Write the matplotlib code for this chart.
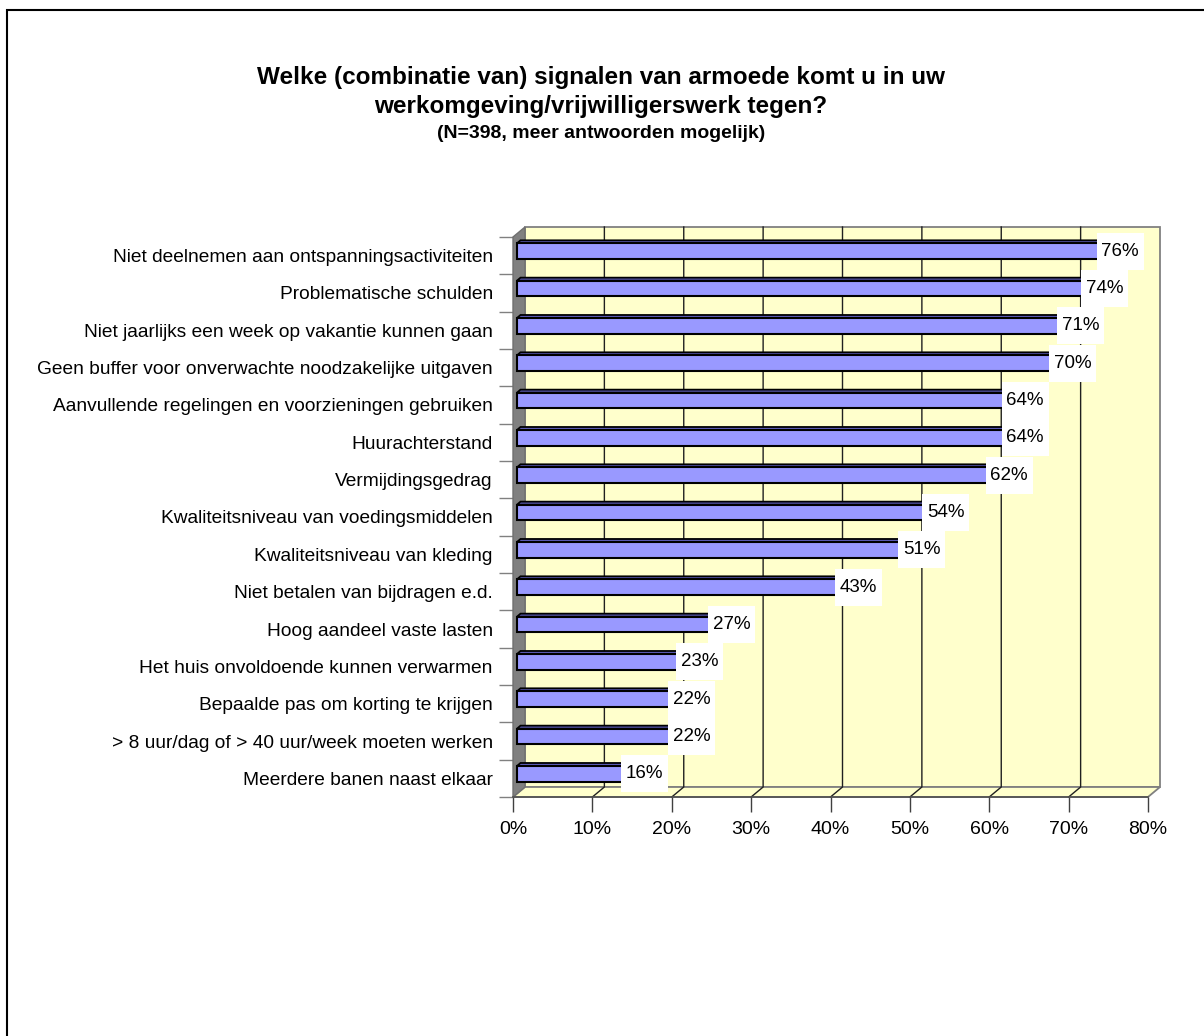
import matplotlib
matplotlib.use("Agg")
import matplotlib.pyplot as plt
from matplotlib.patches import Polygon, Rectangle
from matplotlib.transforms import IdentityTransform
import numpy as np

categories = [
    "Niet deelnemen aan ontspanningsactiviteiten",
    "Problematische schulden",
    "Niet jaarlijks een week op vakantie kunnen gaan",
    "Geen buffer voor onverwachte noodzakelijke uitgaven",
    "Aanvullende regelingen en voorzieningen gebruiken",
    "Huurachterstand",
    "Vermijdingsgedrag",
    "Kwaliteitsniveau van voedingsmiddelen",
    "Kwaliteitsniveau van kleding",
    "Niet betalen van bijdragen e.d.",
    "Hoog aandeel vaste lasten",
    "Het huis onvoldoende kunnen verwarmen",
    "Bepaalde pas om korting te krijgen",
    "> 8 uur/dag of > 40 uur/week moeten werken",
    "Meerdere banen naast elkaar",
]
values = [76, 74, 71, 70, 64, 64, 62, 54, 51, 43, 27, 23, 22, 22, 16]
xticks = [0, 10, 20, 30, 40, 50, 60, 70, 80]
xticklabels = ["0%", "10%", "20%", "30%", "40%", "50%", "60%", "70%", "80%"]

title_line1 = "Welke (combinatie van) signalen van armoede komt u in uw"
title_line2 = "werkomgeving/vrijwilligerswerk tegen?"
title_sub = "(N=398, meer antwoorden mogelijk)"

W, H = 1204, 1036
FONT = "Liberation Sans"
plt.rcParams["font.family"] = [FONT, "DejaVu Sans"]

fig = plt.figure(figsize=(W / 100, H / 100), dpi=100)
fig.patch.set_facecolor("white")

# front plane in pixel coords (image y down)
fx0, fx1, fy0, fy1 = 513, 1148, 237, 797
ax = fig.add_axes([fx0 / W, (H - fy1) / H, (fx1 - fx0) / W, (fy1 - fy0) / H])
ax.set_xlim(0, 80)
n = len(categories)
ax.set_ylim(n - 0.5, -0.5)
ax.patch.set_visible(False)
for s in ax.spines.values():
    s.set_visible(False)

ID = IdentityTransform()
DX, DY = 12, 10  # depth offset in display pixels


def disp(x, y):
    return ax.transData.transform((x, y))


fig.canvas.draw()

# back wall
bl = disp(0, n - 0.5) + (DX, DY)
tr = disp(80, -0.5) + (DX, DY)
ax.add_patch(Rectangle(bl, tr[0] - bl[0], tr[1] - bl[1], facecolor="#FFFFCC",
                       edgecolor="#808080", lw=1.3, transform=ID, clip_on=False, zorder=1))
# floor
f0 = disp(0, n - 0.5)
f1 = disp(80, n - 0.5)
ax.add_patch(Polygon([f0, f1, f1 + (DX, DY), f0 + (DX, DY)], closed=True,
                     facecolor="#FFFFCC", edgecolor="#808080", lw=1.3,
                     transform=ID, clip_on=False, zorder=1))
# gridlines on back wall and floor
for t in xticks[1:-1]:
    b = disp(t, n - 0.5)
    top = disp(t, -0.5) + (DX, DY)
    ax.plot([b[0], b[0] + DX, top[0]], [b[1], b[1] + DY, top[1]],
            color="#202020", lw=1.0, transform=ID, clip_on=False, zorder=2)
# left side wall
w0 = disp(0, -0.5)
w1 = disp(0, n - 0.5)
ax.add_patch(Polygon([w0, w0 + (DX, DY), w1 + (DX, DY), w1], closed=True,
                     facecolor="#808080", edgecolor="#707070", lw=1.0,
                     transform=ID, clip_on=False, zorder=2))
# front floor edge
ax.plot([f0[0], f1[0]], [f0[1], f1[1]], color="#505050", lw=1.2, transform=ID,
        clip_on=False, zorder=3)

# bars (3D look)
SX, SY = 4, 4.5
BH = 0.42
TD = (3.5, 3.0)
for i, v in enumerate(values):
    a = disp(0, i + BH / 2) + (SX, SY)
    b = disp(v, i - BH / 2) + (SX, SY)
    # top face
    ax.add_patch(Polygon([(a[0], b[1]), (b[0], b[1]), (b[0] + TD[0], b[1] + TD[1]),
                          (a[0] + TD[0], b[1] + TD[1])], closed=True,
                         facecolor="#5C5CB8", edgecolor="black", lw=1.3,
                         transform=ID, clip_on=False, zorder=4))
    # right face
    ax.add_patch(Polygon([(b[0], a[1]), (b[0] + TD[0], a[1] + TD[1]), (b[0] + TD[0], b[1] + TD[1]),
                          (b[0], b[1])], closed=True,
                         facecolor="#5C5CB8", edgecolor="black", lw=1.3,
                         transform=ID, clip_on=False, zorder=4))
    # front face
    ax.add_patch(Rectangle(a, b[0] - a[0], b[1] - a[1], facecolor="#9999FF",
                           edgecolor="black", lw=1.5, transform=ID, clip_on=False, zorder=5))

# value labels with white boxes
BW, BHpx = 47, 37
for i, v in enumerate(values):
    c = disp(v, i) + (SX, SY)
    ax.add_patch(Rectangle((c[0] - BW / 2, c[1] - BHpx / 2), BW, BHpx, facecolor="white",
                           edgecolor="none", transform=ID, clip_on=False, zorder=6))
    ax.text(c[0], c[1], f"{v}%", transform=ID, ha="center", va="center",
            fontsize=13.5, color="black", zorder=7, clip_on=False)

# axes ticks
ax.set_yticks(range(n))
ax.set_yticklabels(categories, fontsize=13.8)
ax.set_yticks(np.arange(-0.5, n, 1.0), minor=True)
ax.tick_params(axis="y", which="major", length=0, pad=14.5)
ax.tick_params(axis="y", which="minor", length=10, width=1.0, color="#808080", direction="out")
ax.set_xticks(xticks)
ax.set_xticklabels(xticklabels, fontsize=14)
ax.tick_params(axis="x", which="major", length=10.5, width=1.0, color="#404040",
               direction="out", pad=7)

# titles
fig.text(601 / W, 1 - 84 / H, title_line1, ha="center", va="baseline", fontsize=17.5,
         fontweight="bold")
fig.text(601 / W, 1 - 113 / H, title_line2, ha="center", va="baseline", fontsize=17.5,
         fontweight="bold")
fig.text(601 / W, 1 - 138 / H, title_sub, ha="center", va="baseline", fontsize=14,
         fontweight="bold")

# outer frame
fig.add_artist(Rectangle((7 / W, -0.1), 1.2, (1 - 10 / H) + 0.1, transform=fig.transFigure,
                         facecolor="none", edgecolor="black", lw=1.5))

fig.savefig("out.png", dpi=100)
